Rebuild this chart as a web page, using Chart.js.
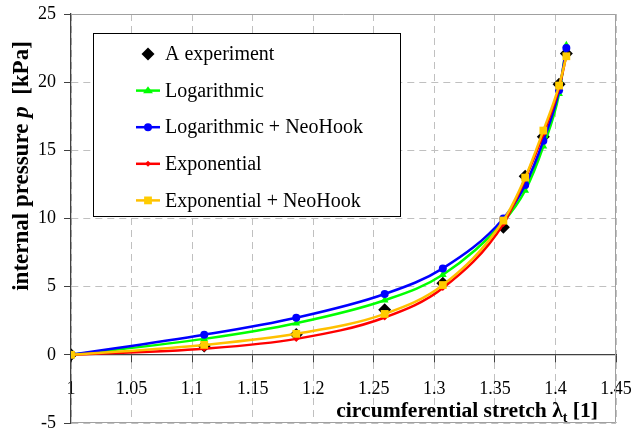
<!DOCTYPE html>
<html>
<head>
<meta charset="utf-8">
<script src="https://cdn.jsdelivr.net/npm/chart.js@4/dist/chart.umd.min.js"></script>
<style>
  html, body { margin: 0; padding: 0; background: #fff; }
  #wrap { width: 633px; height: 434px; position: relative; }
</style>
</head>
<body>
<div id="wrap"><canvas id="chart"></canvas></div>
<script>
// circumferential stretch values (same for every series)
const stretch = [1.0, 1.11, 1.186, 1.259, 1.307, 1.357, 1.375, 1.39, 1.403, 1.409];

// internal pressure [kPa]
const experiment = [0, 0.65, 1.5, 3.3, 5.25, 9.35, 13.1, 16.0, 19.85, 22.1];
const logarithmic = [0, 1.17, 2.32, 4.0, 5.87, 9.75, 12.05, 15.3, 19.15, 22.7];
const logNeoHook = [0, 1.47, 2.72, 4.46, 6.34, 10.0, 12.45, 15.7, 19.4, 22.5];
const exponential = [0, 0.45, 1.17, 2.74, 4.9, 9.6, 12.9, 16.2, 19.6, 21.95];
const expNeoHook = [0, 0.73, 1.54, 3.0, 5.12, 9.85, 13.0, 16.45, 19.75, 21.9];

const xTicks = [1, 1.05, 1.1, 1.15, 1.2, 1.25, 1.3, 1.35, 1.4, 1.45];
const yTicks = [-5, 0, 5, 10, 15, 20, 25];

const serif = "'Liberation Serif', 'Times New Roman', serif";

function pts(ys) {
  return stretch.map((x, i) => ({ x: x, y: ys[i] }));
}

function series(label, ys, color, fill, style, radius, order, showLine) {
  return {
    label: label,
    data: pts(ys),
    borderColor: color,
    backgroundColor: fill,
    pointBackgroundColor: fill,
    pointBorderColor: fill,
    pointBorderWidth: 0,
    pointStyle: style,
    pointRadius: radius,
    borderWidth: 2.5,
    showLine: showLine,
    cubicInterpolationMode: "monotone",
    order: order,
  };
}

const datasets = [
  series("A experiment", experiment, "#000000", "#000000", "rectRot", 6.5, 5, false),
  series("Logarithmic", logarithmic, "#00ff00", "#00ff00", "triangle", 4.5, 4, true),
  series("Logarithmic + NeoHook", logNeoHook, "#0000ff", "#0000ff", "circle", 4, 3, true),
  series("Exponential", exponential, "#ff0000", "#ff0000", "rectRot", 3, 2, true),
  series("Exponential + NeoHook", expNeoHook, "#ffc000", "#ffcc00", "rect", 5.5, 1, true),
];

// small marker drawer for the legend box
function marker(ctx, style, x, y, r, color) {
  ctx.fillStyle = color;
  ctx.beginPath();
  if (style === "rectRot") {
    ctx.moveTo(x - r, y); ctx.lineTo(x, y - r); ctx.lineTo(x + r, y); ctx.lineTo(x, y + r);
  } else if (style === "triangle") {
    const h = r * 1.5;
    ctx.moveTo(x, y - h * 0.66); ctx.lineTo(x + r * 1.1, y + h * 0.4); ctx.lineTo(x - r * 1.1, y + h * 0.4);
  } else if (style === "circle") {
    ctx.arc(x, y, r, 0, Math.PI * 2);
  } else {
    const s = r * Math.SQRT1_2;
    ctx.rect(x - s, y - s, 2 * s, 2 * s);
  }
  ctx.closePath();
  ctx.fill();
}

const frameAndText = {
  id: "frameAndText",
  beforeDatasetsDraw(chart) {
    const { ctx, chartArea: a } = chart;
    ctx.save();
    ctx.strokeStyle = "#a0a0a0";
    ctx.lineWidth = 1;
    ctx.beginPath();
    ctx.moveTo(a.left, a.top + 0.5);
    ctx.lineTo(a.right - 0.5, a.top + 0.5);
    ctx.lineTo(a.right - 0.5, a.bottom - 0.5);
    ctx.lineTo(a.left, a.bottom - 0.5);
    ctx.stroke();
    ctx.restore();
  },
  afterDraw(chart) {
    const { ctx, chartArea: a } = chart;
    ctx.save();

    // legend box
    const bx = a.left + 22, by = a.top + 19, bw = 307, bh = 183;
    ctx.fillStyle = "#fff";
    ctx.fillRect(bx, by, bw, bh);
    ctx.strokeStyle = "#000";
    ctx.lineWidth = 1;
    ctx.strokeRect(bx + 0.5, by + 0.5, bw, bh);
    ctx.font = "20px " + serif;
    ctx.textBaseline = "middle";
    ctx.textAlign = "left";
    chart.data.datasets.forEach((ds, i) => {
      const cy = by + 21 + i * 36.6;
      const mx = bx + 55;
      if (ds.showLine) {
        ctx.strokeStyle = ds.borderColor;
        ctx.lineWidth = 2.5;
        ctx.beginPath();
        ctx.moveTo(mx - 12, cy);
        ctx.lineTo(mx + 12, cy);
        ctx.stroke();
      }
      marker(ctx, ds.pointStyle, mx, cy, ds.pointRadius, ds.pointBackgroundColor);
      ctx.fillStyle = "#000";
      ctx.fillText(ds.label, bx + 72, cy + 1);
    });

    // x axis title: circumferential stretch λt [1]
    ctx.fillStyle = "#000";
    ctx.textBaseline = "alphabetic";
    const bold = "bold 21.6px " + serif;
    const sub = "bold 14px " + serif;
    const parts = [
      { t: "circumferential stretch \u03bb", f: bold, dy: 0 },
      { t: "t", f: sub, dy: 5 },
      { t: " [1]", f: bold, dy: 0 },
    ];
    let w = 0;
    parts.forEach(p => { ctx.font = p.f; w += ctx.measureText(p.t).width; });
    let x = a.right - 18 - w;
    const base = a.bottom - 6;
    parts.forEach(p => {
      ctx.font = p.f;
      ctx.fillText(p.t, x, base + p.dy);
      x += ctx.measureText(p.t).width;
    });

    // y axis title: internal pressure p [kPa]
    const yparts = [
      { t: "internal pressure ", f: "bold 23px " + serif },
      { t: "p", f: "italic bold 23px " + serif },
      { t: "  [kPa]", f: "bold 23px " + serif },
    ];
    let yw = 0;
    yparts.forEach(p => { ctx.font = p.f; yw += ctx.measureText(p.t).width; });
    ctx.translate(28, 166);
    ctx.rotate(-Math.PI / 2);
    let tx = -yw / 2;
    yparts.forEach(p => {
      ctx.font = p.f;
      ctx.fillText(p.t, tx, 0);
      tx += ctx.measureText(p.t).width;
    });
    ctx.restore();
  },
};

const gridColor = (c) => (c.tick && c.tick.value === 0 ? "rgba(0,0,0,0)" : "#c0c0c0");

function noPad(scale) {
  scale.paddingTop = 0;
  scale.paddingBottom = 0;
  scale.paddingLeft = 0;
  scale.paddingRight = 0;
}

new Chart(document.getElementById("chart"), {
  type: "scatter",
  data: { datasets: datasets },
  options: {
    responsive: true,
    maintainAspectRatio: false,
    animation: false,
    layout: { padding: { left: 0, right: 17, top: 14, bottom: 11 } },
    plugins: { legend: { display: false }, tooltip: { enabled: false } },
    scales: {
      x: {
        type: "linear",
        position: { y: 0 },
        min: 1,
        max: 1.45,
        afterBuildTicks: (axis) => { axis.ticks = xTicks.map(v => ({ value: v })); },
        afterFit: (scale) => { noPad(scale); },
        ticks: {
          callback: (v) => String(v),
          color: "#000",
          font: { family: serif, size: 18 },
          padding: 17,
          maxRotation: 0,
          autoSkip: false,
        },
        grid: {
          color: "#c0c0c0",
          lineWidth: 1,
          tickLength: 7,
          tickColor: "#404040",
          tickBorderDash: [],
          tickWidth: 1,
        },
        border: { display: true, color: "#404040", width: 1.3, dash: [7, 5] },
      },
      y: {
        type: "linear",
        min: -5,
        max: 25,
        afterBuildTicks: (axis) => { axis.ticks = yTicks.map(v => ({ value: v })); },
        afterFit: (scale) => { scale.width = 71; noPad(scale); },
        ticks: {
          callback: (v) => String(v),
          color: "#000",
          font: { family: serif, size: 18 },
          padding: 8,
        },
        grid: {
          color: gridColor,
          lineWidth: 1,
          tickLength: 7,
          tickColor: "#404040",
          tickBorderDash: [],
          tickWidth: 1,
        },
        border: { display: true, color: "#404040", width: 1.3, dash: [7, 5] },
      },
    },
  },
  plugins: [frameAndText],
});
</script>
</body>
</html>
